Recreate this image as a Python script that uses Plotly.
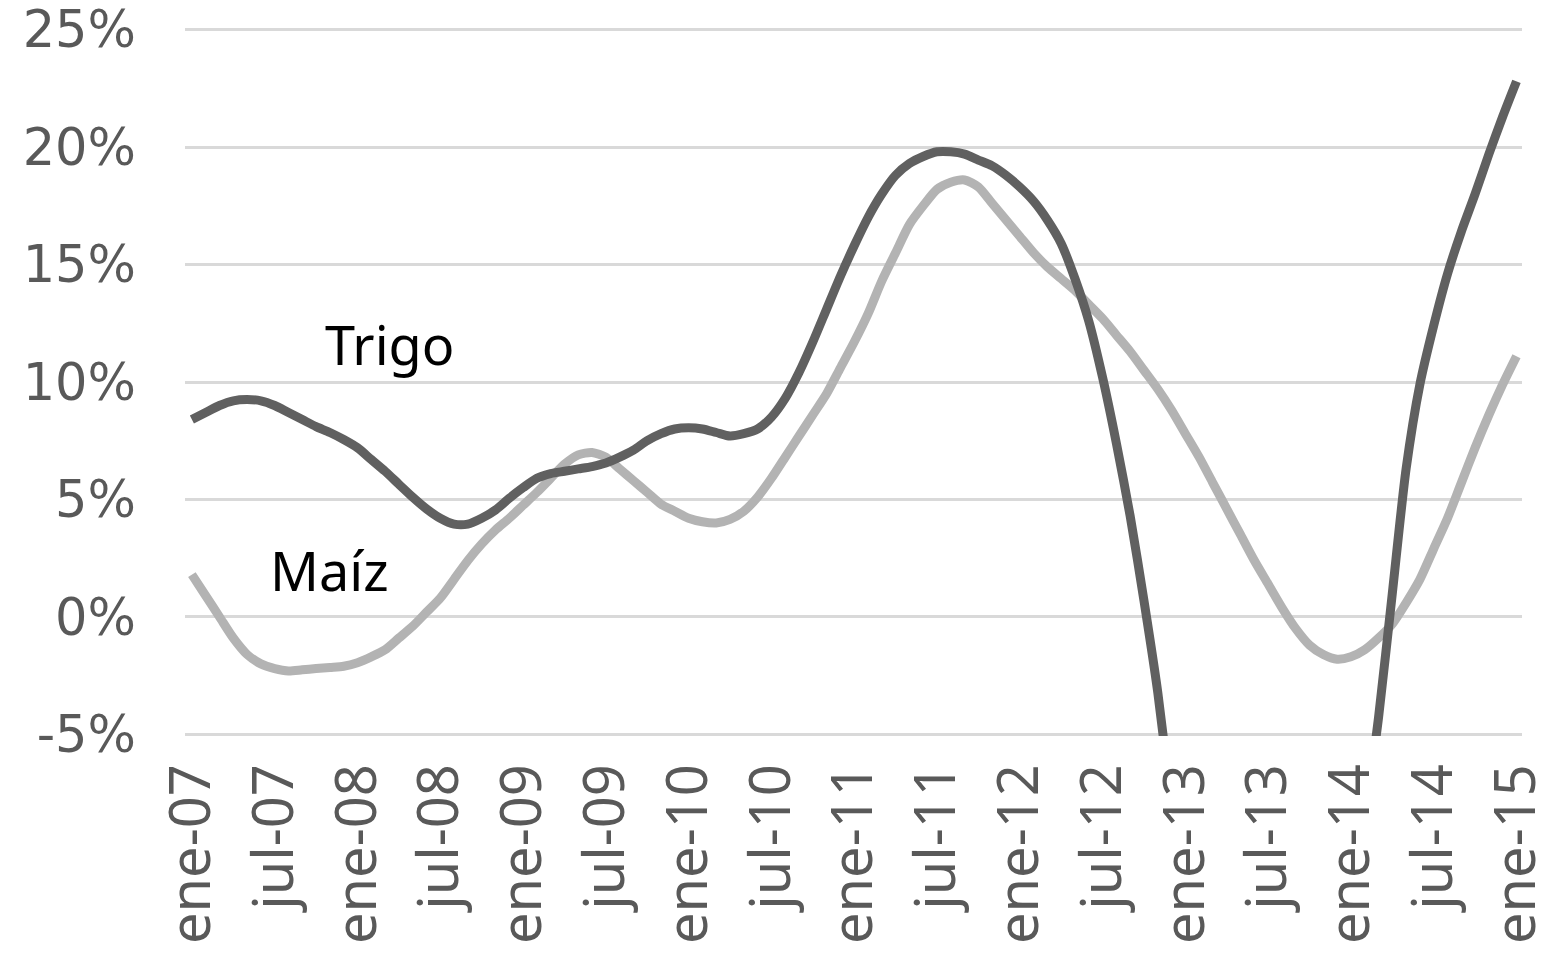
import plotly.graph_objects as go

# monthly series, ene-07 .. ene-15 (percent change)
meses = ["ene", "feb", "mar", "abr", "may", "jun", "jul", "ago", "sep", "oct", "nov", "dic"]
fechas = [f"{meses[i % 12]}-{7 + i // 12:02d}" for i in range(97)]

trigo = [
    8.4, 8.7, 9.0, 9.2, 9.25, 9.2, 9.0, 8.7, 8.4, 8.1, 7.85, 7.55,
    7.2, 6.7, 6.2, 5.65, 5.1, 4.6, 4.2, 3.95, 3.95, 4.2, 4.55, 5.05,
    5.5, 5.9, 6.1, 6.2, 6.3, 6.4, 6.55, 6.8, 7.1, 7.5, 7.8, 8.0,
    8.05, 8.0, 7.85, 7.7, 7.8, 8.0, 8.5, 9.3, 10.4, 11.7, 13.1, 14.5,
    15.8, 17.0, 18.0, 18.8, 19.3, 19.6, 19.8, 19.8, 19.7, 19.45, 19.2, 18.8,
    18.3, 17.7, 16.9, 15.9, 14.4, 12.6, 10.2, 7.4, 4.3, 0.7, -3.2, -8.0,
    -12.5, -17.0, -21.0, -24.5, -27.0, -28.5, -29.0, -28.5, -27.0, -24.5, -21.0, -17.0,
    -12.5, -8.8, -4.3, 1.0, 6.3, 9.9, 12.4, 14.6, 16.4, 18.0, 19.7, 21.3,
    22.8,
]

maiz = [
    1.8, 0.9, 0.0, -0.9, -1.6, -2.0, -2.2, -2.3, -2.25, -2.2, -2.15, -2.1,
    -1.95, -1.7, -1.4, -0.9, -0.4, 0.2, 0.8, 1.6, 2.4, 3.1, 3.7, 4.2,
    4.75, 5.3, 5.9, 6.5, 6.9, 7.0, 6.8, 6.3, 5.8, 5.3, 4.8, 4.5,
    4.2, 4.05, 4.0, 4.15, 4.5, 5.1, 5.9, 6.8, 7.7, 8.6, 9.5, 10.6,
    11.7, 12.9, 14.3, 15.5, 16.7, 17.5, 18.2, 18.5, 18.6, 18.3, 17.6, 16.9,
    16.2, 15.5, 14.9, 14.4, 13.9, 13.3, 12.7, 12.0, 11.3, 10.5, 9.7, 8.8,
    7.8, 6.8, 5.7, 4.6, 3.5, 2.4, 1.4, 0.4, -0.5, -1.2, -1.6, -1.8,
    -1.7, -1.4, -0.9, -0.3, 0.6, 1.6, 2.9, 4.2, 5.7, 7.2, 8.6, 9.9,
    11.1,
]

tick_vals = list(range(0, 97, 6))
tick_text = [fechas[i] for i in tick_vals]
y_ticks = [-5, 0, 5, 10, 15, 20, 25]

fig = go.Figure()
fig.add_trace(go.Scatter(x=list(range(97)), y=maiz, mode="lines", name="Maíz",
                         line=dict(color="#b3b3b3", width=9, shape="spline", smoothing=0.7)))
fig.add_trace(go.Scatter(x=list(range(97)), y=trigo, mode="lines", name="Trigo",
                         line=dict(color="#606060", width=9, shape="spline", smoothing=0.7)))

fig.add_annotation(x=14.3, y=11.6, text="Trigo", showarrow=False,
                   font=dict(family="Noto Sans", size=54, color="#000000"))
fig.add_annotation(x=10.0, y=2.0, text="Maíz", showarrow=False,
                   font=dict(family="Noto Sans", size=54, color="#000000"))

# page body has an 8px margin, so the figure is drawn 8px smaller
fig.update_layout(
    width=1542, height=945,
    margin=dict(l=177, r=28, t=20, b=217),
    plot_bgcolor="white", paper_bgcolor="white",
    showlegend=False,
    xaxis=dict(
        range=[-0.5, 96.4], tickmode="array", tickvals=tick_vals, ticktext=tick_text,
        tickangle=-90, showgrid=False, zeroline=False, showline=False, ticks="",
        ticklabelstandoff=16, ticklabeloverflow="allow", automargin=False,
        tickfont=dict(family="Noto Sans", size=56, color="#595959"),
    ),
    yaxis=dict(
        range=[-5.07, 25.07], tickmode="array", tickvals=y_ticks,
        ticktext=[f"{v}%" for v in y_ticks],
        showgrid=True, gridcolor="#d9d9d9", gridwidth=3, zeroline=False,
        showline=False, ticks="", ticklabelstandoff=48, automargin=False,
        ticklabeloverflow="allow",
        tickfont=dict(family="DejaVu Sans", size=51, color="#595959"),
    ),
)

fig.write_html("out.html")
